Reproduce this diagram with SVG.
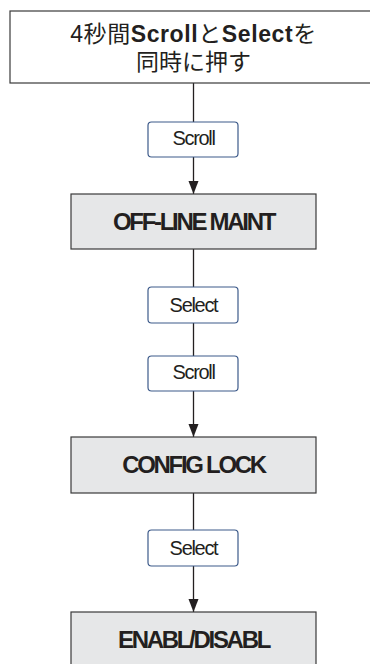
<svg xmlns="http://www.w3.org/2000/svg" width="370" height="664" viewBox="0 0 370 664">
<style>
.gbox{fill:#e6e7e8;stroke:#3a3a3a;stroke-width:1.2}
.sbox{fill:#ffffff;stroke:#3d5a8a;stroke-width:1.2}
.tbox{fill:#ffffff;stroke:#3a3a3a;stroke-width:1.2}
.gt{font-family:"Liberation Sans",Arial,sans-serif;font-weight:bold;font-size:24px;letter-spacing:-2.3px;fill:#231f20;text-anchor:middle}
.st{font-family:"Liberation Sans",Arial,sans-serif;font-size:20px;letter-spacing:-1.3px;fill:#231f20;text-anchor:middle}
.tt{font-family:"Liberation Sans","Noto Sans CJK JP",sans-serif;font-size:23px;fill:#231f20;text-anchor:middle}
.conn{stroke:#231f20;stroke-width:1.3;fill:none}
</style>
<g id="connectors">
<line class="conn" x1="193.5" y1="83" x2="193.5" y2="122"/>
<line class="conn" x1="193.5" y1="157" x2="193.5" y2="194"/>
<path d="M188.5,181 L198.5,181 L193.5,194 Z" fill="#231f20"/>
<line class="conn" x1="193.5" y1="249" x2="193.5" y2="287"/>
<line class="conn" x1="193.5" y1="323" x2="193.5" y2="356"/>
<line class="conn" x1="193.5" y1="391" x2="193.5" y2="437"/>
<path d="M188.5,424 L198.5,424 L193.5,437 Z" fill="#231f20"/>
<line class="conn" x1="193.5" y1="493" x2="193.5" y2="530"/>
<line class="conn" x1="193.5" y1="566" x2="193.5" y2="612"/>
<path d="M188.5,599 L198.5,599 L193.5,612 Z" fill="#231f20"/>
</g>
<g id="start">
<rect class="tbox" x="10" y="11" width="400" height="72"/>
<text class="tt" x="193.5" y="42" letter-spacing="0.6">4秒間<tspan font-weight="bold">Scroll</tspan>と<tspan font-weight="bold">Select</tspan>を</text>
<text class="tt" x="193.5" y="70">同時に押す</text>
</g>
<g id="scroll1">
<rect class="sbox" x="148" y="122" width="90" height="35" rx="3.5"/>
<text class="st" x="193.5" y="145">Scroll</text>
</g>
<g id="offline">
<rect class="gbox" x="71" y="194" width="245" height="55"/>
<text class="gt" x="193.5" y="230">OFF-LINE MAINT</text>
</g>
<g id="select1">
<rect class="sbox" x="148" y="287" width="90" height="36" rx="3.5"/>
<text class="st" x="193.5" y="311.5">Select</text>
</g>
<g id="scroll2">
<rect class="sbox" x="148" y="356" width="90" height="35" rx="3.5"/>
<text class="st" x="193.5" y="379">Scroll</text>
</g>
<g id="configlock">
<rect class="gbox" x="71" y="437" width="245" height="56"/>
<text class="gt" x="193.5" y="473">CONFIG LOCK</text>
</g>
<g id="select2">
<rect class="sbox" x="148" y="530" width="90" height="36" rx="3.5"/>
<text class="st" x="193.5" y="554.5">Select</text>
</g>
<g id="enabl">
<rect class="gbox" x="71" y="612" width="245" height="70"/>
<text class="gt" x="193.5" y="648">ENABL/DISABL</text>
</g>
</svg>
